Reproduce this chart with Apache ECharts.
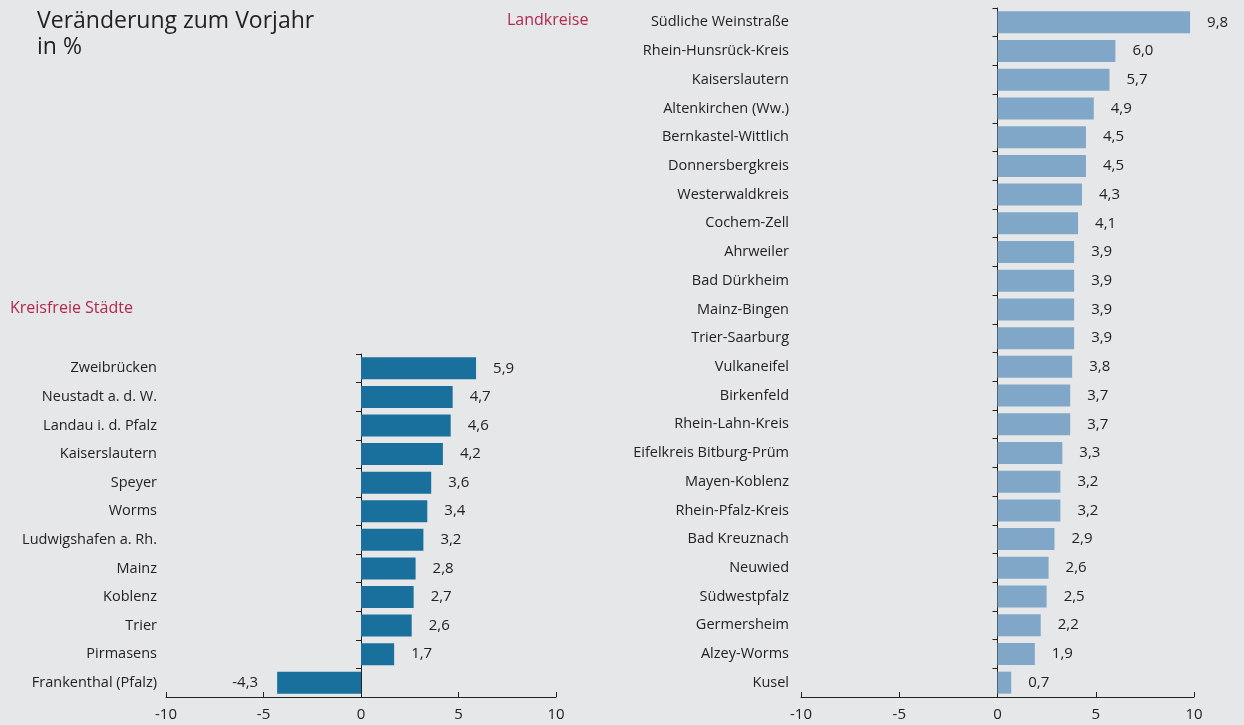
<!DOCTYPE html>
<html><head><meta charset="utf-8">
<script src="https://cdn.jsdelivr.net/npm/echarts@6/dist/echarts.min.js"></script>
<style>html,body{margin:0;padding:0;background:#e6e7e8;}#c{width:1244px;height:725px;}</style>
</head><body><div id="c"></div>
<script>
const staedte = ["Zweibrücken","Neustadt a. d. W.","Landau i. d. Pfalz","Kaiserslautern","Speyer","Worms","Ludwigshafen a. Rh.","Mainz","Koblenz","Trier","Pirmasens","Frankenthal (Pfalz)"];
const staedteValues = [5.9,4.7,4.6,4.2,3.6,3.4,3.2,2.8,2.7,2.6,1.7,-4.3];
const landkreise = ["Südliche Weinstraße","Rhein-Hunsrück-Kreis","Kaiserslautern","Altenkirchen (Ww.)","Bernkastel-Wittlich","Donnersbergkreis","Westerwaldkreis","Cochem-Zell","Ahrweiler","Bad Dürkheim","Mainz-Bingen","Trier-Saarburg","Vulkaneifel","Birkenfeld","Rhein-Lahn-Kreis","Eifelkreis Bitburg-Prüm","Mayen-Koblenz","Rhein-Pfalz-Kreis","Bad Kreuznach","Neuwied","Südwestpfalz","Germersheim","Alzey-Worms","Kusel"];
const landkreiseValues = [9.8,6.0,5.7,4.9,4.5,4.5,4.3,4.1,3.9,3.9,3.9,3.9,3.8,3.7,3.7,3.3,3.2,3.2,2.9,2.6,2.5,2.2,1.9,0.7];
const xTicks = {min:-10,max:10,interval:5};

const FONT = "'Open Sans', 'Noto Sans', sans-serif";
const TXT = '#222222';
const fmt = v => v.toFixed(1).replace('.', ',');

function xAxis(gi){
  return {
    type:'value', gridIndex:gi, min:xTicks.min, max:xTicks.max, interval:xTicks.interval,
    splitLine:{show:false},
    axisLine:{show:true,onZero:false,lineStyle:{color:TXT,width:1}},
    axisTick:{show:true,inside:true,length:5,lineStyle:{color:TXT}},
    axisLabel:{color:TXT,fontFamily:FONT,fontSize:15,margin:10,formatter:v=>String(v)}
  };
}
function yAxis(gi,cats,margin){
  return {
    type:'category', gridIndex:gi, data:cats, inverse:true,
    axisLine:{show:true,onZero:true,lineStyle:{color:TXT,width:1}},
    axisTick:{show:true,length:5,lineStyle:{color:TXT}},
    axisLabel:{color:TXT,fontFamily:FONT,fontSize:14.5,margin:margin}
  };
}
function barData(vals){
  return vals.map(v => v < 0
    ? {value:v, label:{position:'left',distance:19}}
    : {value:v});
}
function series(gi,vals,color){
  return {
    type:'bar', xAxisIndex:gi, yAxisIndex:gi, data:barData(vals), barWidth:22,
    itemStyle:{color:color},
    label:{show:true,position:'right',distance:17,color:TXT,fontFamily:FONT,fontSize:15,formatter:p=>fmt(p.value)},
    animation:false
  };
}

const chart = echarts.init(document.getElementById('c'), null, {renderer:'canvas'});
chart.setOption({
  backgroundColor:'#e6e7e8',
  animation:false,
  title:[
    {text:'Veränderung zum Vorjahr\nin %', left:37, top:8, padding:0,
     textStyle:{fontFamily:FONT,fontSize:23,fontWeight:'normal',color:TXT,lineHeight:26}},
    {text:'Kreisfreie Städte', left:10, top:300, padding:0,
     textStyle:{fontFamily:FONT,fontSize:16,fontWeight:'normal',color:'#b0284e'}},
    {text:'Landkreise', left:507, top:12, padding:0,
     textStyle:{fontFamily:FONT,fontSize:16,fontWeight:'normal',color:'#b0284e'}}
  ],
  grid:[
    {left:166, right:688, top:354, bottom:28, containLabel:false, outerBoundsMode:'none'},
    {left:801, right:50, top:8, bottom:28, containLabel:false, outerBoundsMode:'none'}
  ],
  xAxis:[xAxis(0), xAxis(1)],
  yAxis:[yAxis(0,staedte,9), yAxis(1,landkreise,12)],
  series:[series(0,staedteValues,'#1a709c'), series(1,landkreiseValues,'#80a7c8')]
});
</script></body></html>
